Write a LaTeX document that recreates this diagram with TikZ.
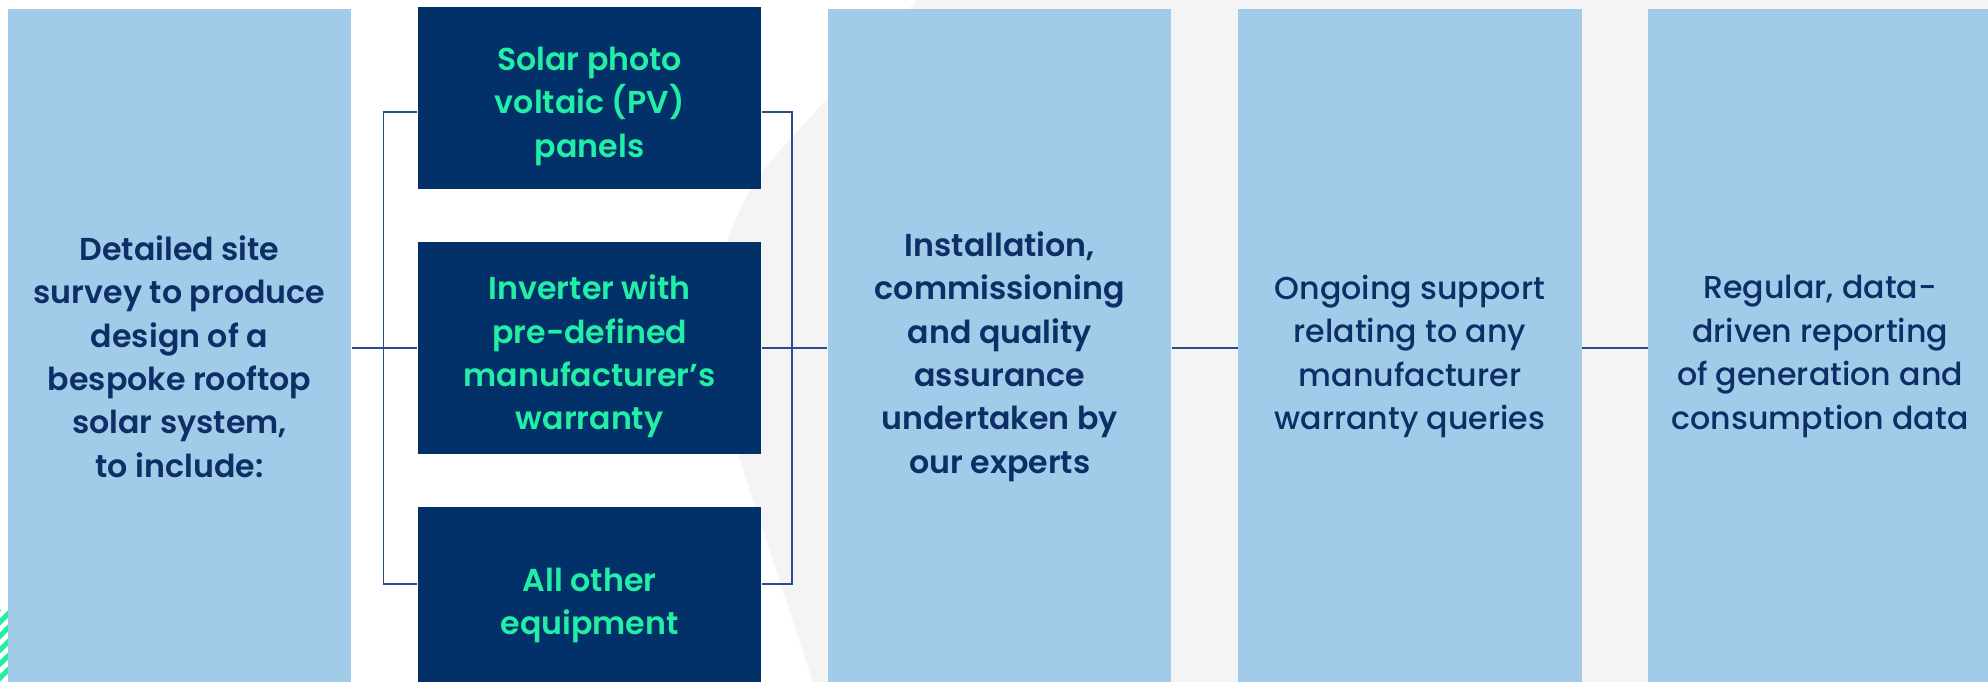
\documentclass[tikz,border=0pt]{standalone}
\usepackage{fontspec}
\setmainfont{Poppins}[BoldFont={Poppins SemiBold}]
\newfontfamily\mediumfont{Poppins Medium}
\usetikzlibrary{positioning}
\definecolor{sky-blue}{HTML}{A2CBEA}
\definecolor{deep-navy}{HTML}{023068}
\definecolor{mint}{HTML}{22EEA6}
\definecolor{ink}{HTML}{0C2F66}
\definecolor{wire}{HTML}{2A4C88}
\definecolor{back-grey}{HTML}{F4F4F4}
\tikzset{
  step-box/.style={
    fill=sky-blue,
    minimum width=3.43cm,
    minimum height=6.78cm,
    inner sep=0pt},
  item-box/.style={
    fill=deep-navy,
    minimum width=3.43cm,
    minimum height=1.81cm,
    inner sep=0pt},
  ink-text/.style={
    text=ink,
    align=center,
    inner sep=0pt,
    yshift=-0.085cm,
    font=\fontsize{9}{12.35}\selectfont\bfseries},
  ink-text light/.style={ink-text, font=\fontsize{9}{12.35}\selectfont\mediumfont},
  mint-text/.style={ink-text, text=mint},
  link-path/.style={draw=wire, line width=0.45pt},
  stripe/.style={draw=mint, line width=0.05cm},
}

\begin{document}
\begin{tikzpicture}[x=0.01cm, y=-0.01cm, node distance=0.655cm]
\useasboundingbox[fill=white] (0,0) rectangle (1988,682);
% grey backdrop
\fill[back-grey] (917,0) [rounded corners=1.48cm] -- (675.6,265.5) [sharp corners] -- (813,682) -- (1988,682) -- (1988,0) -- cycle;
% hatch in the corner
\begin{scope}
  \clip (0,610) rectangle (8,682);
  \foreach \k in {0,...,5}
    \draw[stripe] (-20,628+\k*14) -- (20,588+\k*14);
\end{scope}
% steps
\node[step-box, label={[ink-text]center:{Detailed site\\survey to produce\\design of a\\bespoke rooftop\\solar system,\\to include:}}] (survey) at (179.5,348) {};
\node[item-box, minimum height=2.12cm, right=of survey, label={[mint-text]center:{Inverter with\\pre-defined\\manufacturer’s\\warranty}}] (inverter) {};
\node[item-box, above=0.52cm of inverter, label={[mint-text]center:{Solar photo\\voltaic (PV)\\panels}}] (panels) {};
\node[item-box, below=0.51cm of inverter, label={[mint-text]center:{All other\\equipment}}] (other) {};
\node[step-box, right=of inverter, label={[ink-text]center:{Installation,\\commissioning\\and quality\\assurance\\undertaken by\\our experts}}] (install) {};
\node[step-box, right=of install, label={[ink-text light]center:{Ongoing support\\relating to any\\manufacturer\\warranty queries}}] (support) {};
\node[step-box, right=of support, label={[ink-text light]center:{Regular, data-\\driven reporting\\of generation and\\consumption data}}] (report) {};
% fork and join
\coordinate (fork-a) at (383.5,112);
\coordinate (fork-b) at (383.5,584);
\coordinate (join-a) at (792,112);
\coordinate (join-b) at (792,584);
\draw[link-path] (fork-a -| panels.west) -- (fork-a) -- (fork-b) -- (fork-b -| other.west);
\draw[link-path] (join-a -| panels.east) -- (join-a) -- (join-b) -- (join-b -| other.east);
\draw[link-path] (survey.east) -- (inverter.west);
\draw[link-path] (inverter.east) -- (install.west);
\draw[link-path] (install.east) -- (support.west);
\draw[link-path] (support.east) -- (report.west);
\end{tikzpicture}
\end{document}
